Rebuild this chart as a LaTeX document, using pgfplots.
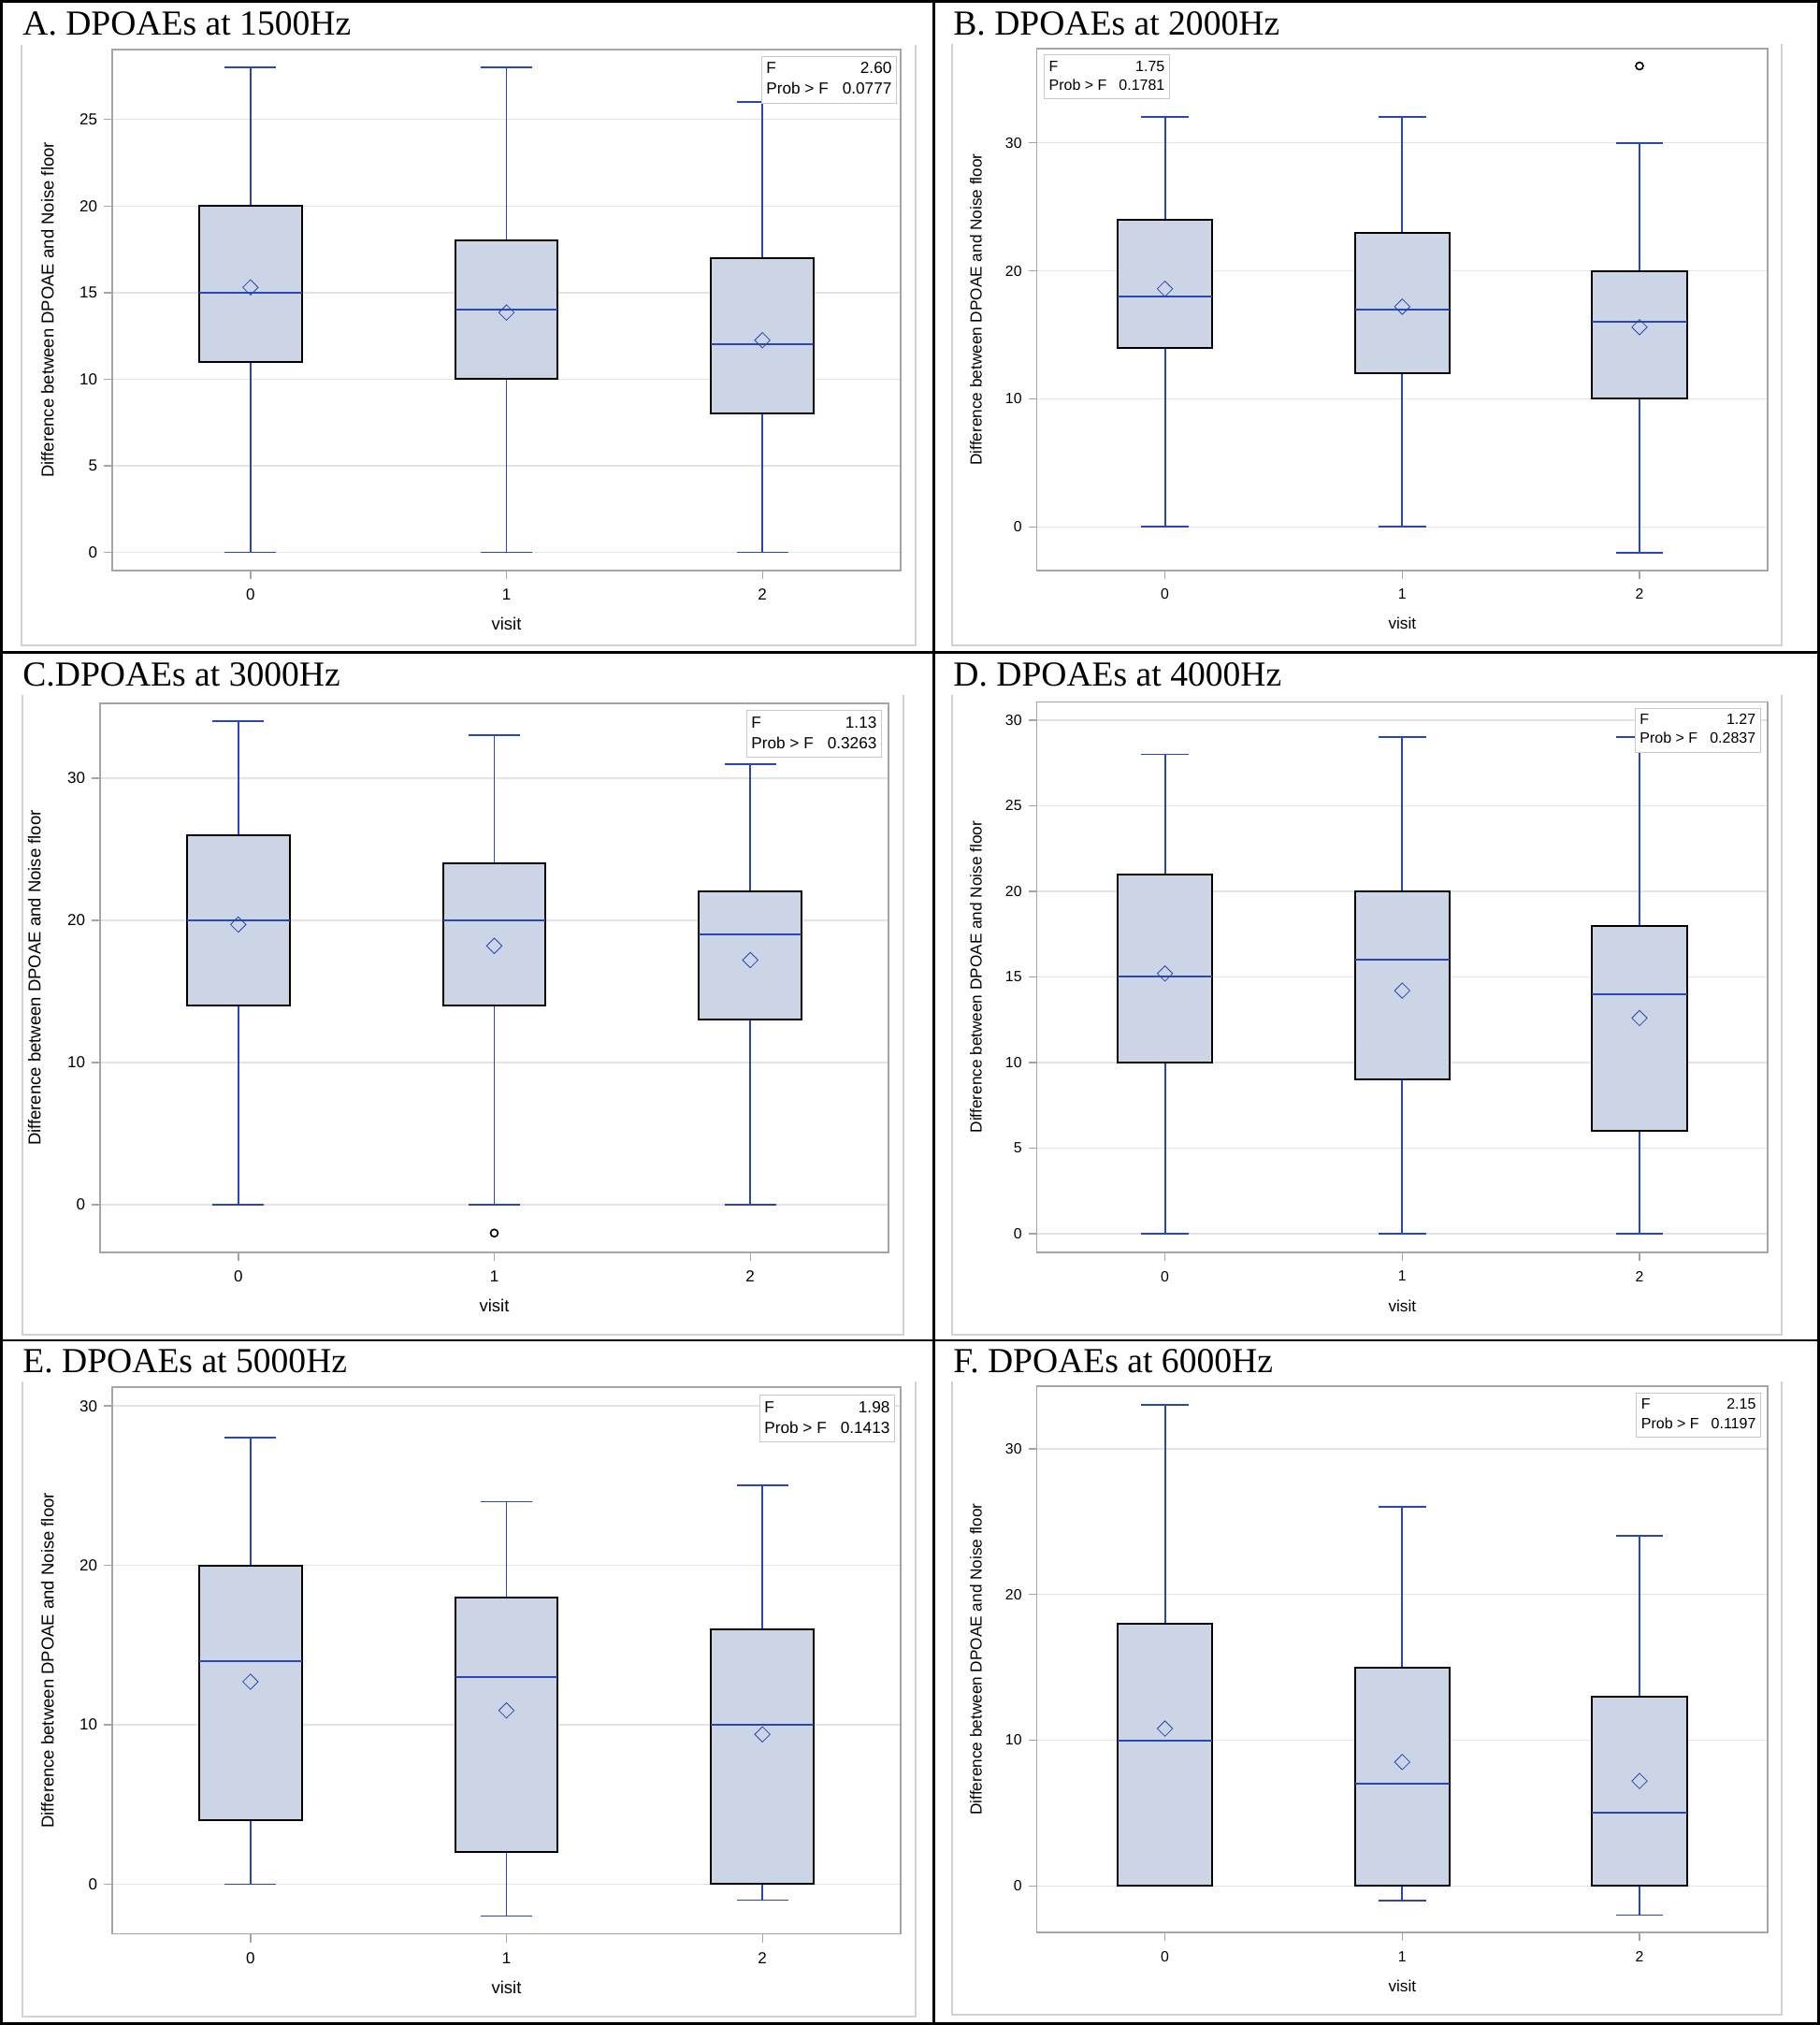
\documentclass[border=0pt]{standalone}
\usepackage{fontspec}
\setmainfont{Liberation Serif}
\newfontfamily\arial{Liberation Sans}
\usepackage{pgfplots}
\pgfplotsset{compat=1.18}
\usepgfplotslibrary{statistics}

\definecolor{sasblue}{RGB}{40,70,180}
\definecolor{boxfill}{RGB}{203,213,230}
\definecolor{axisgray}{RGB}{165,165,165}
\definecolor{gridgray}{RGB}{228,228,228}
\definecolor{framegray}{RGB}{210,210,210}
\definecolor{statgray}{RGB}{200,200,200}

\newcommand\titlefont{\fontsize{18.8bp}{22bp}\selectfont}
\newcommand\tickL{\arial\fontsize{8.5bp}{10bp}\selectfont}
\newcommand\labL{\arial\fontsize{9.25bp}{11bp}\selectfont}
\newcommand\statL{\arial\fontsize{8.6bp}{11bp}\selectfont}
\newcommand\tickR{\arial\fontsize{7.9bp}{9.5bp}\selectfont}
\newcommand\labR{\arial\fontsize{8.6bp}{10bp}\selectfont}
\newcommand\statR{\arial\fontsize{8bp}{10.2bp}\selectfont}

\pgfdeclareplotmark{sasdiamond}{%
  \pgfpathmoveto{\pgfqpoint{0pt}{\pgfplotmarksize}}%
  \pgfpathlineto{\pgfqpoint{\pgfplotmarksize}{0pt}}%
  \pgfpathlineto{\pgfqpoint{0pt}{-\pgfplotmarksize}}%
  \pgfpathlineto{\pgfqpoint{-\pgfplotmarksize}{0pt}}%
  \pgfpathclose\pgfusepathqstroke}

\tikzset{stat/.style={draw=statgray, fill=white, line width=0.6bp, inner xsep=2.5bp, inner ysep=1.5bp}}

\pgfplotsset{
  sasaxis/.style={
    scale only axis, anchor=south west,
    xmin=-0.54, xmax=2.54, xtick={0,1,2},
    xtick pos=bottom, ytick pos=left,
    tick align=outside, major tick length=4.5bp,
    every tick/.style={draw=axisgray, line width=0.7bp},
    axis line style={draw=axisgray, line width=0.8bp},
    ymajorgrids, major grid style={draw=gridgray, line width=0.7bp},
    /pgf/number format/assume math mode=true,
    xticklabel style={yshift=-2bp},
    xlabel={visit}, ylabel={Difference between DPOAE and Noise floor},
    xlabel style={at={(axis description cs:0.5,0)}, anchor=center, yshift=-28.5bp},
    ylabel style={anchor=center},
    boxplot/draw direction=y,
    boxplot/box extend=0.4, boxplot/whisker extend=0.2,
    boxplot/every box/.style={draw=black, fill=boxfill, line width=1bp},
    boxplot/every whisker/.style={draw=sasblue, line width=0.9bp},
    boxplot/every median/.style={draw=sasblue, line width=1bp},
    boxplot/every average/.style={/tikz/mark=sasdiamond, /tikz/mark size=4.1bp, draw=sasblue, line width=1bp},
  },
  sasbox/.style={sasblue, solid, mark=none},
  outl/.style={only marks, mark=o, mark size=2bp, mark options={draw=black, line width=0.8bp}},
}

\begin{document}
\begin{tikzpicture}
\useasboundingbox (0,0) rectangle (973bp,-1082.5bp);

% gray SAS frames (open at top)
\draw[framegray, line width=0.7bp] (11.5bp,-24bp) -- (11.5bp,-345bp) -- (489.5bp,-345bp) -- (489.5bp,-24bp);
\draw[framegray, line width=0.7bp] (509bp,-23.5bp) -- (509bp,-345bp) -- (952.5bp,-345bp) -- (952.5bp,-23.5bp);
\draw[framegray, line width=0.7bp] (12bp,-371.5bp) -- (12bp,-713.5bp) -- (483bp,-713.5bp) -- (483bp,-371.5bp);
\draw[framegray, line width=0.7bp] (509bp,-371.5bp) -- (509bp,-713.5bp) -- (952.5bp,-713.5bp) -- (952.5bp,-371.5bp);
\draw[framegray, line width=0.7bp] (12bp,-738.5bp) -- (12bp,-1078bp) -- (489.5bp,-1078bp) -- (489.5bp,-738.5bp);
\draw[framegray, line width=0.7bp] (509bp,-738.5bp) -- (509bp,-1077bp) -- (952.5bp,-1077bp) -- (952.5bp,-738.5bp);

% ---------------- A ----------------
\begin{axis}[sasaxis, at={(60bp,-305bp)}, width=421.5bp, height=278.65bp,
  ymin=-1.05, ymax=29.05, ytick={0,5,10,15,20,25},
  ylabel style={at={(axis description cs:-0.082,0.5)}},
  ticklabel style={font=\tickL}, label style={font=\labL}]
\addplot[sasbox, boxplot prepared={draw position=0, lower whisker=0, lower quartile=11, median=15, upper quartile=20, upper whisker=28, average=15.3}] coordinates {};
\addplot[sasbox, boxplot prepared={draw position=1, lower whisker=0, lower quartile=10, median=14, upper quartile=18, upper whisker=28, average=13.85}] coordinates {};
\addplot[sasbox, boxplot prepared={draw position=2, lower whisker=0, lower quartile=8, median=12, upper quartile=17, upper whisker=26, average=12.25}] coordinates {};
\node[stat, anchor=north east, font=\statL] at ([xshift=-2bp,yshift=-3.5bp]axis description cs:1,1)
  {\begin{tabular}{@{}l@{\hspace{7.5bp}}r@{}}F & 2.60\\ Prob > F & 0.0777\end{tabular}};
\end{axis}

% ---------------- B ----------------
\begin{axis}[sasaxis, at={(554.3bp,-304.9bp)}, width=390.7bp, height=278.8bp,
  ymin=-3.39, ymax=37.34, ytick={0,10,20,30},
  ylabel style={at={(axis description cs:-0.0834,0.5)}},
  ticklabel style={font=\tickR}, label style={font=\labR}]
\addplot[sasbox, boxplot prepared={draw position=0, lower whisker=0, lower quartile=14, median=18, upper quartile=24, upper whisker=32, average=18.6}] coordinates {};
\addplot[sasbox, boxplot prepared={draw position=1, lower whisker=0, lower quartile=12, median=17, upper quartile=23, upper whisker=32, average=17.2}] coordinates {};
\addplot[sasbox, boxplot prepared={draw position=2, lower whisker=-2, lower quartile=10, median=16, upper quartile=20, upper whisker=30, average=15.6}] coordinates {};
\addplot[outl] coordinates {(2,36)};
\node[stat, anchor=north west, font=\statR] at ([xshift=3.7bp,yshift=-3bp]axis description cs:0,1)
  {\begin{tabular}{@{}l@{\hspace{6.5bp}}r@{}}F & 1.75\\ Prob > F & 0.1781\end{tabular}};
\end{axis}

% ---------------- C ----------------
\begin{axis}[sasaxis, at={(53.5bp,-669.5bp)}, width=421.5bp, height=293.4bp,
  ymin=-3.36, ymax=35.24, ytick={0,10,20,30},
  ylabel style={at={(axis description cs:-0.0834,0.5)}},
  ticklabel style={font=\tickL}, label style={font=\labL}]
\addplot[sasbox, boxplot prepared={draw position=0, lower whisker=0, lower quartile=14, median=20, upper quartile=26, upper whisker=34, average=19.7}] coordinates {};
\addplot[sasbox, boxplot prepared={draw position=1, lower whisker=0, lower quartile=14, median=20, upper quartile=24, upper whisker=33, average=18.2}] coordinates {};
\addplot[sasbox, boxplot prepared={draw position=2, lower whisker=0, lower quartile=13, median=19, upper quartile=22, upper whisker=31, average=17.2}] coordinates {};
\addplot[outl] coordinates {(1,-2)};
\node[stat, anchor=north east, font=\statL] at ([xshift=-3.5bp,yshift=-3.5bp]axis description cs:1,1)
  {\begin{tabular}{@{}l@{\hspace{7.5bp}}r@{}}F & 1.13\\ Prob > F & 0.3263\end{tabular}};
\end{axis}

% ---------------- D ----------------
\begin{axis}[sasaxis, at={(554.3bp,-669.5bp)}, width=390.7bp, height=294.35bp,
  ymin=-1.09, ymax=31.07, ytick={0,5,10,15,20,25,30},
  ylabel style={at={(axis description cs:-0.0834,0.5)}},
  ticklabel style={font=\tickR}, label style={font=\labR}]
\addplot[sasbox, boxplot prepared={draw position=0, lower whisker=0, lower quartile=10, median=15, upper quartile=21, upper whisker=28, average=15.2}] coordinates {};
\addplot[sasbox, boxplot prepared={draw position=1, lower whisker=0, lower quartile=9, median=16, upper quartile=20, upper whisker=29, average=14.2}] coordinates {};
\addplot[sasbox, boxplot prepared={draw position=2, lower whisker=0, lower quartile=6, median=14, upper quartile=18, upper whisker=29, average=12.6}] coordinates {};
\node[stat, anchor=north east, font=\statR] at ([xshift=-3.6bp,yshift=-3.2bp]axis description cs:1,1)
  {\begin{tabular}{@{}l@{\hspace{6.5bp}}r@{}}F & 1.27\\ Prob > F & 0.2837\end{tabular}};
\end{axis}

% ---------------- E ----------------
\begin{axis}[sasaxis, at={(60bp,-1033.8bp)}, width=421.5bp, height=292.2bp,
  ymin=-3.12, ymax=31.17, ytick={0,10,20,30},
  ylabel style={at={(axis description cs:-0.082,0.5)}},
  ticklabel style={font=\tickL}, label style={font=\labL}]
\addplot[sasbox, boxplot prepared={draw position=0, lower whisker=0, lower quartile=4, median=14, upper quartile=20, upper whisker=28, average=12.7}] coordinates {};
\addplot[sasbox, boxplot prepared={draw position=1, lower whisker=-2, lower quartile=2, median=13, upper quartile=18, upper whisker=24, average=10.9}] coordinates {};
\addplot[sasbox, boxplot prepared={draw position=2, lower whisker=-1, lower quartile=0, median=10, upper quartile=16, upper whisker=25, average=9.4}] coordinates {};
\node[stat, anchor=north east, font=\statL] at ([xshift=-3bp,yshift=-4bp]axis description cs:1,1)
  {\begin{tabular}{@{}l@{\hspace{7.5bp}}r@{}}F & 1.98\\ Prob > F & 0.1413\end{tabular}};
\end{axis}

% ---------------- F ----------------
\begin{axis}[sasaxis, at={(554.3bp,-1033.1bp)}, width=390.7bp, height=292.2bp,
  ymin=-3.2, ymax=34.3, ytick={0,10,20,30},
  ylabel style={at={(axis description cs:-0.0834,0.5)}},
  ticklabel style={font=\tickR}, label style={font=\labR}]
\addplot[sasbox, boxplot prepared={draw position=0, lower whisker=0, lower quartile=0, median=10, upper quartile=18, upper whisker=33, average=10.8}] coordinates {};
\addplot[sasbox, boxplot prepared={draw position=1, lower whisker=-1, lower quartile=0, median=7, upper quartile=15, upper whisker=26, average=8.5}] coordinates {};
\addplot[sasbox, boxplot prepared={draw position=2, lower whisker=-2, lower quartile=0, median=5, upper quartile=13, upper whisker=24, average=7.2}] coordinates {};
\node[stat, anchor=north east, font=\statR] at ([xshift=-3.5bp,yshift=-3.5bp]axis description cs:1,1)
  {\begin{tabular}{@{}l@{\hspace{6.5bp}}r@{}}F & 2.15\\ Prob > F & 0.1197\end{tabular}};
\end{axis}

% titles
\node[anchor=base west, font=\titlefont, inner sep=0pt] at (12bp,-18.5bp) {A. DPOAEs at 1500Hz};
\node[anchor=base west, font=\titlefont, inner sep=0pt] at (509.5bp,-18.5bp) {B. DPOAEs at 2000Hz};
\node[anchor=base west, font=\titlefont, inner sep=0pt] at (12bp,-366.5bp) {C.DPOAEs at 3000Hz};
\node[anchor=base west, font=\titlefont, inner sep=0pt] at (509.5bp,-366.5bp) {D. DPOAEs at 4000Hz};
\node[anchor=base west, font=\titlefont, inner sep=0pt] at (12bp,-733.7bp) {E. DPOAEs at 5000Hz};
\node[anchor=base west, font=\titlefont, inner sep=0pt] at (509.5bp,-733.7bp) {F. DPOAEs at 6000Hz};

% panel borders
\draw[black, line width=1.3bp] (0.8bp,-0.8bp) rectangle (972.2bp,-1081.7bp);
\draw[black, line width=1.3bp] (499.3bp,-0.8bp) -- (499.3bp,-1081.7bp);
\draw[black, line width=1.3bp] (0.8bp,-348.7bp) -- (972.2bp,-348.7bp);
\draw[black, line width=1.3bp] (0.8bp,-716.5bp) -- (972.2bp,-716.5bp);
\end{tikzpicture}
\end{document}
